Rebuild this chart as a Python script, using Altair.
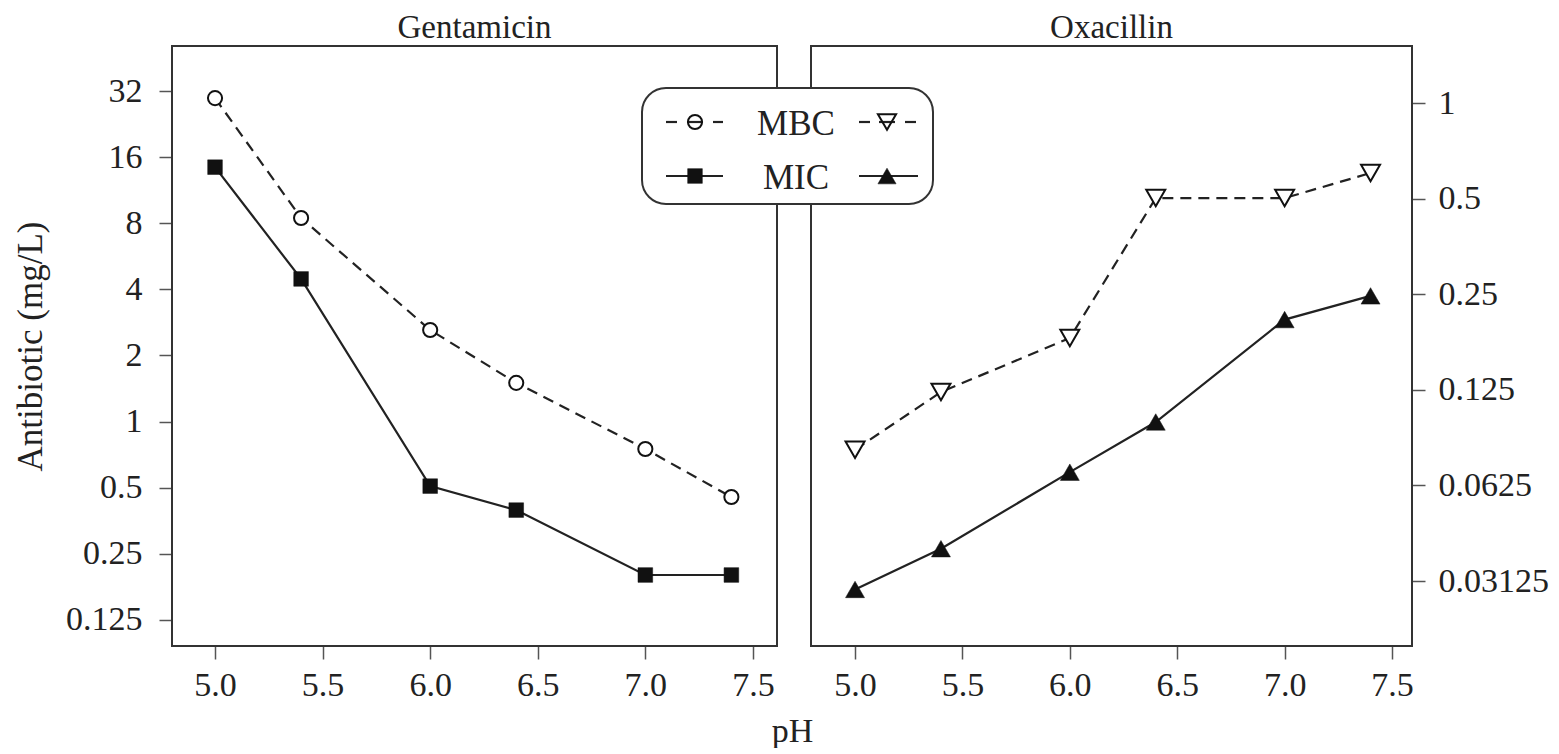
import altair as alt
import pandas as pd

# ---- data ----
ph = [5.0, 5.4, 6.0, 6.4, 7.0, 7.4]
gent_mbc = [29.7, 8.45, 2.61, 1.50, 0.75, 0.453]
gent_mic = [14.4, 4.46, 0.508, 0.395, 0.20, 0.20]
oxa_mbc = [0.081, 0.123, 0.182, 0.502, 0.502, 0.602]
oxa_mic = [0.0294, 0.0395, 0.0688, 0.099, 0.208, 0.247]

gent_ticks = [0.125, 0.25, 0.5, 1, 2, 4, 8, 16, 32]
oxa_ticks = [0.03125, 0.0625, 0.125, 0.25, 0.5, 1]
ph_ticks = [5.0, 5.5, 6.0, 6.5, 7.0, 7.5]
panel_titles = ["Gentamicin", "Oxacillin"]
legend_labels = ["MBC", "MIC"]

rows = []
for name, mbc, mic in [("Gentamicin", gent_mbc, gent_mic), ("Oxacillin", oxa_mbc, oxa_mic)]:
    for p, a, b in zip(ph, mbc, mic):
        rows.append({"antibiotic": name, "pH": p, "measure": "MBC", "value": a})
        rows.append({"antibiotic": name, "pH": p, "measure": "MIC", "value": b})
df = pd.DataFrame(rows)
one = pd.DataFrame({"k": [0]})

H = 600
FONT = "Liberation Serif"
INK = "#222222"
FRAME = "#333333"
DASH = [11, 7]


def seg(x0, x1, y, dash=None):
    kw = dict(color=INK, strokeWidth=2.2)
    if dash:
        kw["strokeDash"] = dash
    return alt.Chart(one).mark_rule(**kw).encode(x=alt.value(x0), x2=alt.value(x1), y=alt.value(y))


def panel(name, ticks, domain, xdomain, W, orient, mbc_shape, mic_shape, is_left):
    d = df[df["antibiotic"] == name]
    if is_left:
        xaxis = alt.Axis(values=ph_ticks, format=".1f", title="pH", domain=False, grid=False,
                         tickSize=13, tickColor="#555555", tickWidth=1.5,
                         labelFont=FONT, labelFontSize=34, labelColor=INK, labelPadding=9,
                         titleFont=FONT, titleFontSize=34, titleFontWeight="normal", titleColor=INK,
                         titleX=620, titleY=95, titleBaseline="alphabetic")
        yaxis = alt.Axis(orient=orient, values=ticks, format="~g", title="Antibiotic (mg/L)",
                         domain=False, grid=False, tickSize=13, tickColor="#555555", tickWidth=1.5,
                         labelFont=FONT, labelFontSize=34, labelColor=INK, labelPadding=17,
                         titleFont=FONT, titleFontSize=35, titleFontWeight="normal", titleColor=INK,
                         titleX=-142, titleY=H / 2, titleBaseline="middle", titleAlign="center")
    else:
        xaxis = alt.Axis(values=ph_ticks, format=".1f", title=None, domain=False, grid=False,
                         tickSize=13, tickColor="#555555", tickWidth=1.5,
                         labelFont=FONT, labelFontSize=34, labelColor=INK, labelPadding=9)
        yaxis = alt.Axis(orient=orient, values=ticks, format="~g", title=None,
                         domain=False, grid=False, tickSize=13, tickColor="#555555", tickWidth=1.5,
                         labelFont=FONT, labelFontSize=34, labelColor=INK, labelPadding=13)

    x = alt.X("pH:Q", scale=alt.Scale(domain=xdomain, nice=False, zero=False), axis=xaxis)
    y = alt.Y("value:Q", scale=alt.Scale(type="log", base=2, domain=domain, nice=False), axis=yaxis)

    base = alt.Chart(d)
    frame = alt.Chart(one).mark_rect(fillOpacity=0, stroke=FRAME, strokeWidth=2).encode(
        x=alt.value(0), x2=alt.value(W), y=alt.value(0), y2=alt.value(H))
    mbc_line = base.transform_filter(alt.datum.measure == "MBC").mark_line(
        color=INK, strokeWidth=2.2, strokeDash=DASH).encode(x=x, y=y)
    mic_line = base.transform_filter(alt.datum.measure == "MIC").mark_line(
        color=INK, strokeWidth=2.2).encode(x=x, y=y)
    mbc_size = 200 if mbc_shape == "circle" else 360
    mbc_pts = base.transform_filter(alt.datum.measure == "MBC").mark_point(
        shape=mbc_shape, size=mbc_size, filled=True, fill="white", stroke="#111111", strokeWidth=2,
        opacity=1).encode(x=x, y=y)
    mic_size = 215 if mic_shape == "square" else 360
    mic_pts = base.transform_filter(alt.datum.measure == "MIC").mark_point(
        shape=mic_shape, size=mic_size, filled=True, fill="#111111", stroke="#111111", strokeWidth=0.5,
        opacity=1).encode(x=x, y=y)

    layers = [frame, mbc_line, mic_line, mbc_pts, mic_pts]

    if not is_left:
        # legend box straddling the two panels (pixel offsets from this panel's origin)
        r1, r2 = 76, 130
        lxc, rxc, tx = -116, 76, -15
        box = alt.Chart(one).mark_rect(cornerRadius=24, fill="white", stroke=FRAME, strokeWidth=2).encode(
            x=alt.value(-169), x2=alt.value(122), y=alt.value(42), y2=alt.value(158))
        # MBC row: "-o-" and "-v-"
        a1, a2, a3 = seg(-145, -134, r1), seg(-124, -108, r1), seg(-98, -88, r1)
        p1 = alt.Chart(one).mark_point(shape="circle", size=200, filled=False, stroke="#111111",
                                       strokeWidth=2, opacity=1).encode(x=alt.value(lxc), y=alt.value(r1))
        t1 = alt.Chart(one).mark_text(text=legend_labels[0], font=FONT, fontSize=35, color=INK,
                                      align="center", baseline="middle").encode(x=alt.value(tx), y=alt.value(r1 + 2))
        b1, b2, b3 = seg(48, 59, r1), seg(68, 84, r1), seg(94, 105, r1)
        p2 = alt.Chart(one).mark_point(shape="triangle-down", size=330, filled=False, stroke="#111111",
                                       strokeWidth=2, opacity=1).encode(x=alt.value(rxc), y=alt.value(r1))
        # MIC row: solid lines with filled square / triangle
        c1 = seg(-145, -88, r2)
        p3 = alt.Chart(one).mark_point(shape="square", size=215, filled=True, fill="#111111",
                                       stroke="#111111", strokeWidth=0.5, opacity=1).encode(
            x=alt.value(lxc), y=alt.value(r2))
        t2 = alt.Chart(one).mark_text(text=legend_labels[1], font=FONT, fontSize=35, color=INK,
                                      align="center", baseline="middle").encode(x=alt.value(tx), y=alt.value(r2 + 2))
        c2 = seg(48, 107, r2)
        p4 = alt.Chart(one).mark_point(shape="triangle-up", size=330, filled=True, fill="#111111",
                                       stroke="#111111", strokeWidth=0.5, opacity=1).encode(
            x=alt.value(rxc), y=alt.value(r2))
        layers += [box, a1, a2, a3, p1, t1, b1, b2, b3, p2, c1, p3, t2, c2, p4]

    return alt.layer(*layers).properties(
        width=W, height=H,
        title=alt.TitleParams(name, font=FONT, fontSize=33, fontWeight="normal", color=INK, offset=0),
    )


left = panel(panel_titles[0], gent_ticks, [0.0950, 51.3], [4.8, 7.612], 605, "left",
             "circle", "square", True)
right = panel(panel_titles[1], oxa_ticks, [0.01951, 1.512], [4.795, 7.593], 601, "right",
              "triangle-down", "triangle-up", False)

chart = alt.hconcat(left, right, spacing=34, bounds="flush").properties(
    padding={"left": 5, "top": 4, "right": 0, "bottom": 0},
    background="white",
).configure_view(strokeWidth=0)

chart.save("out.html", embed_options={"renderer": "svg", "actions": False})
